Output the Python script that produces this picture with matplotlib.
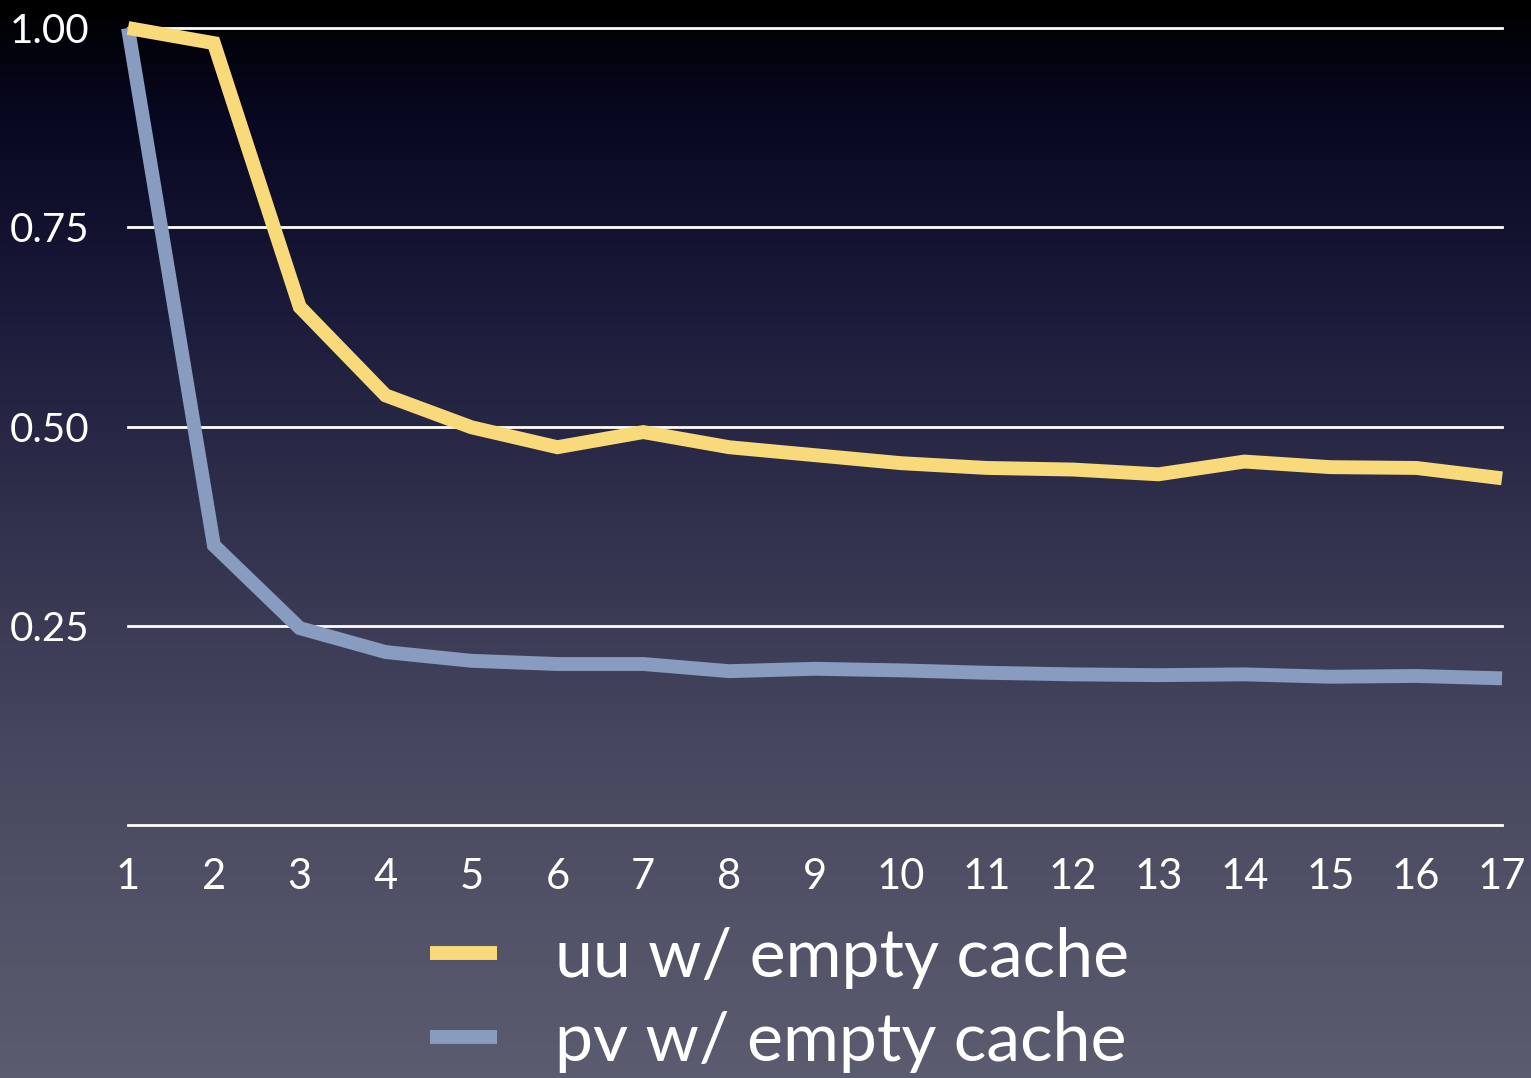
import numpy as np
import matplotlib
matplotlib.use("Agg")
import matplotlib.pyplot as plt
from matplotlib.colors import LinearSegmentedColormap

plt.rcParams['font.family'] = ['Lato', 'DejaVu Sans']

x = list(range(1, 18))
uu = [1.00, 0.981, 0.650, 0.539, 0.499, 0.474, 0.493, 0.474, 0.464,
      0.454, 0.448, 0.446, 0.440, 0.456, 0.449, 0.448, 0.435]
pv = [1.00, 0.351, 0.247, 0.217, 0.206, 0.202, 0.202, 0.193, 0.196,
      0.194, 0.191, 0.189, 0.188, 0.189, 0.186, 0.187, 0.184]
yticks = [0.25, 0.50, 0.75, 1.00]

fig = plt.figure(figsize=(15.31, 10.78), dpi=100)

# background gradient, black on top to grey-blue at bottom
bg = fig.add_axes([0, 0, 1, 1], zorder=0)
cmap = LinearSegmentedColormap.from_list(
    "bg", [(0, "#000000"), (0.11, "#080822"), (0.30, "#1c1c3c"),
           (0.50, "#33334f"), (0.70, "#47475f"), (1.0, "#5c5c70")])
grad = np.linspace(0, 1, 256).reshape(-1, 1)
bg.imshow(grad, aspect="auto", cmap=cmap, extent=[0, 1, 0, 1])
bg.axis("off")

ax = fig.add_axes([128 / 1531, 1 - 825 / 1078, 1374 / 1531, 797 / 1078], zorder=1)
ax.patch.set_alpha(0)
for s in ax.spines.values():
    s.set_visible(False)

for t in [0] + yticks:
    ax.axhline(t, color="white", lw=2, zorder=1, clip_on=False)

ax.plot(x, pv, color="#879cbe", lw=10, label="pv w/ empty cache",
        solid_joinstyle="miter", solid_capstyle="butt", clip_on=False, zorder=3)
ax.plot(x, uu, color="#f9da7a", lw=10, label="uu w/ empty cache",
        solid_joinstyle="miter", solid_capstyle="butt", clip_on=False, zorder=4)

ax.set_xlim(1, 17)
ax.set_ylim(0, 1)
ax.set_xticks(x)
ax.set_xticklabels([str(i) for i in x], fontsize=30, color="white")
ax.set_yticks(yticks)
ax.set_yticklabels(["%.2f" % t for t in yticks], fontsize=29, color="white")
ax.tick_params(length=0, pad=28, axis="y")
ax.tick_params(length=0, pad=24, axis="x")

h, l = ax.get_legend_handles_labels()
leg = fig.legend(h[::-1], l[::-1], loc="upper left",
                 bbox_to_anchor=(369 / 1531, 1 - 866 / 1078),
                 fontsize=49, frameon=False, handlelength=0.985,
                 handletextpad=0.85, labelspacing=0.315, labelcolor="white")

fig.savefig("out.png", dpi=100)
